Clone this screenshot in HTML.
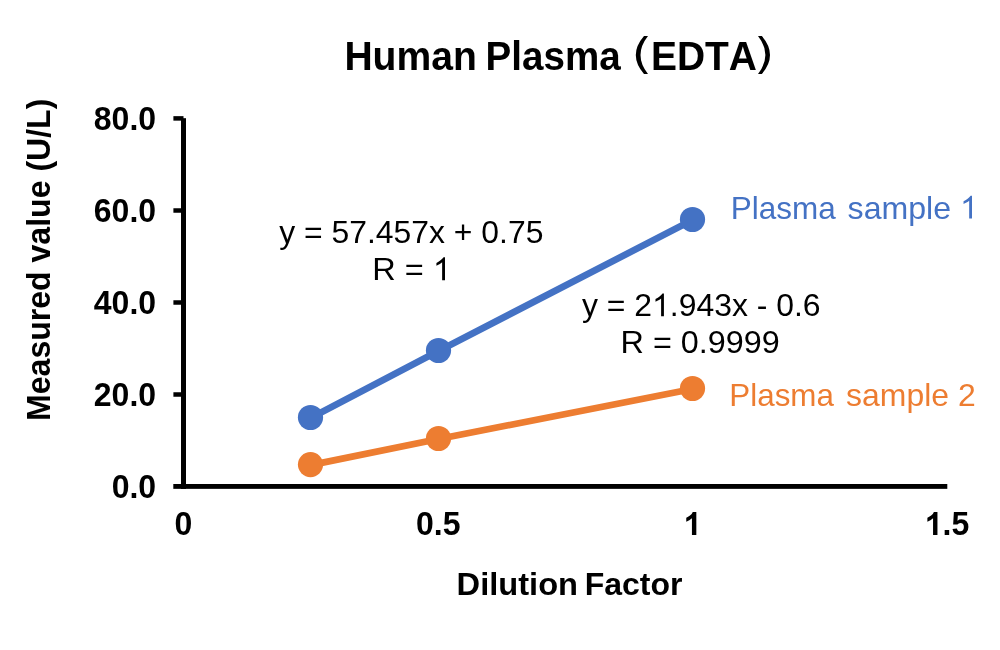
<!DOCTYPE html>
<html><head><meta charset="utf-8">
<style>
html,body{margin:0;padding:0;background:#fff;}
body{width:1000px;height:650px;overflow:hidden;}
svg{display:block;will-change:transform;}
text{font-family:"Liberation Sans",sans-serif;font-kerning:none;}
.b{font-weight:bold;}
.h{fill-opacity:0;}
</style></head><body>
<svg width="1000" height="650" viewBox="0 0 1000 650">
<rect x="0" y="0" width="1000" height="650" fill="#fff"/>
<g transform="translate(344.39,70) scale(0.9649,1.0)"><text class="b" x="0" y="0" font-size="40.5" fill="#000" style="white-space:pre">Human</text></g>
<g transform="translate(485.62,70) scale(0.9527,1.0)"><text class="b" x="0" y="0" font-size="40.5" fill="#000" style="white-space:pre">Plasma</text></g>
<g transform="translate(650.99,70) scale(0.9618,1.0)"><text class="b" x="0" y="0" font-size="40.5" fill="#000" style="white-space:pre">EDTA</text></g>
<g transform="translate(93.83,129.6) scale(1.0,1.04)"><text class="b" x="0" y="0" font-size="32" fill="#000" style="white-space:pre">80.0</text></g>
<g transform="translate(93.83,221.6) scale(1.0,1.04)"><text class="b" x="0" y="0" font-size="32" fill="#000" style="white-space:pre">60.0</text></g>
<g transform="translate(93.83,313.6) scale(1.0,1.04)"><text class="b" x="0" y="0" font-size="32" fill="#000" style="white-space:pre">40.0</text></g>
<g transform="translate(93.83,405.6) scale(1.0,1.04)"><text class="b" x="0" y="0" font-size="32" fill="#000" style="white-space:pre">20.0</text></g>
<g transform="translate(111.63,497.6) scale(1.0,1.04)"><text class="b" x="0" y="0" font-size="32" fill="#000" style="white-space:pre">0.0</text></g>
<g transform="translate(174.57,534.9) scale(1.0,1.04)"><text class="b" x="0" y="0" font-size="32" fill="#000" style="white-space:pre">0</text></g>
<g transform="translate(415.97,534.9) scale(1.0,1.04)"><text class="b" x="0" y="0" font-size="32" fill="#000" style="white-space:pre">0.5</text></g>
<g transform="translate(683.69,534.9) scale(1.0,1.04)"><text class="b" x="0" y="0" font-size="32" fill="#000" style="white-space:pre"><tspan class="h">1</tspan></text><path transform="translate(0.00,0) scale(0.01562,-0.01502)" d="M809,0 L528,0 L528,1059 Q374,915 165,846 L165,1101 Q275,1137 404,1237 Q533,1337 581,1466 L809,1466 Z" fill="#000"/></g>
<g transform="translate(924.81,534.9) scale(1.0,1.04)"><text class="b" x="0" y="0" font-size="32" fill="#000" style="white-space:pre"><tspan class="h">1</tspan>.5</text><path transform="translate(0.00,0) scale(0.01562,-0.01502)" d="M809,0 L528,0 L528,1059 Q374,915 165,846 L165,1101 Q275,1137 404,1237 Q533,1337 581,1466 L809,1466 Z" fill="#000"/></g>
<g transform="translate(456.57,594.6) scale(1.02,1.0)"><text class="b" x="0" y="0" font-size="32" fill="#000" style="white-space:pre">Dilution</text></g>
<g transform="translate(584.66,594.6) scale(1.0003,1.0)"><text class="b" x="0" y="0" font-size="32" fill="#000" style="white-space:pre">Factor</text></g>
<g transform="translate(49.7,420.94) rotate(-90) scale(0.9538,1.0)"><text class="b" x="0" y="0" font-size="33.6" fill="#000" style="white-space:pre">Measured value (U/L)</text></g>
<g transform="translate(279.22,243.3) scale(0.9967,1.0)"><text x="0" y="0" font-size="32" fill="#000" style="white-space:pre">y = 57.457x + 0.75</text></g>
<g transform="translate(372.33,280.2) scale(1.0163,1.0)"><text x="0" y="0" font-size="32" fill="#000" style="white-space:pre">R = <tspan class="h">1</tspan></text><path transform="translate(59.58,0) scale(0.01562,-0.01562)" d="M763,0 L583,0 L583,1147 Q518,1085 412,1023 Q306,961 223,931 L223,1105 Q383,1180 503,1286 Q623,1392 673,1466 L763,1466 Z" fill="#000"/></g>
<g transform="translate(581.92,316.3) scale(0.9976,1.0)"><text x="0" y="0" font-size="32" fill="#000" style="white-space:pre">y = 2<tspan class="h">1</tspan>.943x - 0.6</text><path transform="translate(70.27,0) scale(0.01562,-0.01562)" d="M763,0 L583,0 L583,1147 Q518,1085 412,1023 Q306,961 223,931 L223,1105 Q383,1180 503,1286 Q623,1392 673,1466 L763,1466 Z" fill="#000"/></g>
<g transform="translate(620.54,353.2) scale(1.0117,1.0)"><text x="0" y="0" font-size="32" fill="#000" style="white-space:pre">R = 0.9999</text></g>
<g transform="translate(730.72,218.6) scale(0.9844,1.0)"><text x="0" y="0" font-size="32" fill="#4472C4" style="white-space:pre">Plasma</text></g>
<g transform="translate(847.61,218.6) scale(1.0034,1.0)"><text x="0" y="0" font-size="32" fill="#4472C4" style="white-space:pre">sample <tspan class="h">1</tspan></text><path transform="translate(112.05,0) scale(0.01562,-0.01562)" d="M763,0 L583,0 L583,1147 Q518,1085 412,1023 Q306,961 223,931 L223,1105 Q383,1180 503,1286 Q623,1392 673,1466 L763,1466 Z" fill="#4472C4"/></g>
<g transform="translate(729.32,405.7) scale(0.981,1.0)"><text x="0" y="0" font-size="32" fill="#ED7D31" style="white-space:pre">Plasma</text></g>
<g transform="translate(846.11,405.7) scale(0.9981,1.0)"><text x="0" y="0" font-size="32" fill="#ED7D31" style="white-space:pre">sample 2</text></g>
<path d="M644,36 L648,36 Q633,55 648,74 L644,74 Q627.6,55 644,36 Z" fill="#000"/>
<path d="M758,36 L761.8,36 Q778.2,55 761.8,74 L758,74 Q772.8,55 758,36 Z" fill="#000"/>
<rect x="181" y="118.2" width="5" height="370.7" fill="#000"/>
<rect x="173.4" y="116.15" width="10.1" height="4.5" fill="#000"/>
<rect x="173.4" y="208.25" width="10.1" height="4.5" fill="#000"/>
<rect x="173.4" y="300.25" width="10.1" height="4.5" fill="#000"/>
<rect x="173.4" y="392.25" width="10.1" height="4.5" fill="#000"/>
<rect x="173.3" y="484" width="774" height="4.85" fill="#000"/>
<polyline points="310.5,418 438.5,351 692.5,220" fill="none" stroke="#4472C4" stroke-width="6.75" stroke-linejoin="round"/>
<circle cx="310.5" cy="417.5" r="12.6" fill="#4472C4"/>
<circle cx="438.5" cy="350.5" r="12.6" fill="#4472C4"/>
<circle cx="692.5" cy="219.5" r="12.6" fill="#4472C4"/>
<polyline points="310.5,465.1 438.5,439 692.5,389" fill="none" stroke="#ED7D31" stroke-width="6.75" stroke-linejoin="round"/>
<circle cx="310.5" cy="464.6" r="12.6" fill="#ED7D31"/>
<circle cx="438.5" cy="438.5" r="12.6" fill="#ED7D31"/>
<circle cx="692.5" cy="388.5" r="12.6" fill="#ED7D31"/>
</svg>
</body></html>
